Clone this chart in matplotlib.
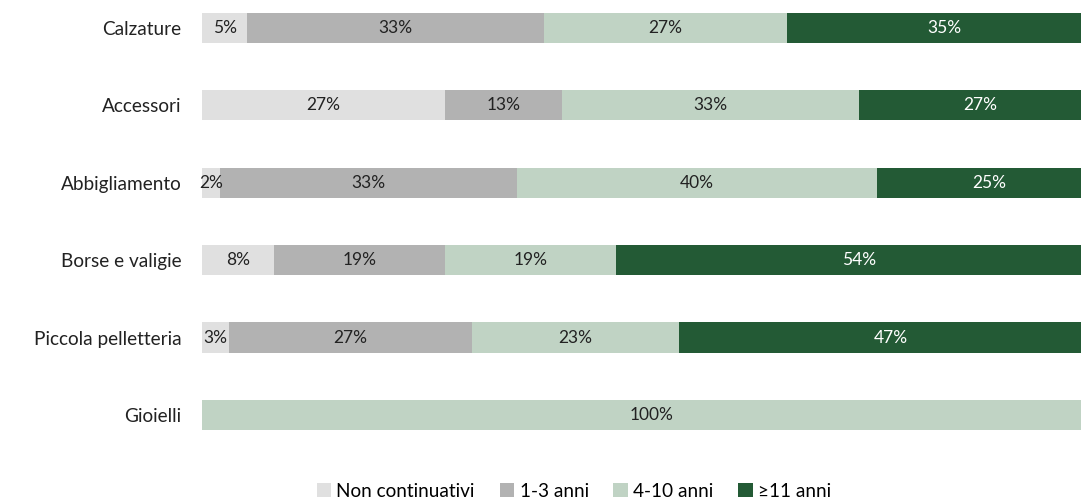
import matplotlib.pyplot as plt
import numpy as np

plt.rcParams['font.family'] = ['Lato', 'DejaVu Sans']

categorie = ["Calzature", "Accessori", "Abbigliamento", "Borse e valigie",
             "Piccola pelletteria", "Gioielli"]
serie = ["Non continuativi", "1-3 anni", "4-10 anni", "\u226511 anni"]
non_continuativi = [5, 27, 2, 8, 3, 0]
anni_1_3 = [33, 13, 33, 19, 27, 0]
anni_4_10 = [27, 33, 40, 19, 23, 100]
anni_11 = [35, 27, 25, 54, 47, 0]
colori = ["#e0e0e0", "#b2b2b2", "#c0d3c4", "#235a35"]
colori_testo = ["#222222", "#222222", "#222222", "white"]

valori = [non_continuativi, anni_1_3, anni_4_10, anni_11]

fig = plt.figure(figsize=(10.81, 4.99), dpi=100)
# l'asse continua oltre il bordo destro della figura, come nell'originale
ax = fig.add_axes([0.1869, 0.0908, 0.8325, 0.9307])

y = np.arange(len(categorie))
sinistra = np.zeros(len(categorie))
for nome, vals, col, ct in zip(serie, valori, colori, colori_testo):
    vals = np.array(vals, dtype=float)
    bars = ax.barh(y, vals, left=sinistra, height=0.39, color=col, label=nome)
    for b, v in zip(bars, vals):
        if v > 0:
            ax.text(b.get_x() + b.get_width() / 2, b.get_y() + b.get_height() / 2,
                    f"{v:.0f}%", ha="center", va="center", fontsize=12.5, color=ct)
    sinistra += vals

ax.set_xlim(0, 100)
ax.set_ylim(5.5, -0.5)
ax.set_yticks(y)
ax.set_yticklabels(categorie, fontsize=13.7, color="#222222")
ax.tick_params(axis="y", length=0, pad=15)
ax.set_xticks([])
for s in ax.spines.values():
    s.set_visible(False)

fig.legend(loc="center", bbox_to_anchor=(0.531, 0.016), ncol=4, frameon=False,
           fontsize=13.7, handlelength=0.75, handleheight=0.75, handletextpad=0.3,
           columnspacing=1.3, borderaxespad=0)

fig.savefig("out.png", dpi=100)
